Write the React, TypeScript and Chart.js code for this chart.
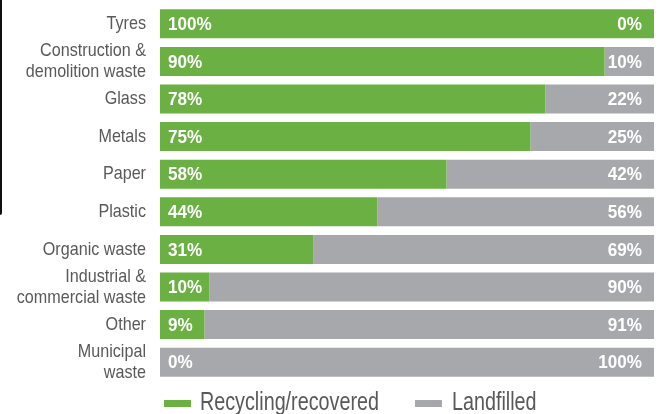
import React, { useEffect, useRef } from "react";
import { Chart, registerables } from "chart.js";

Chart.register(...registerables);

const categories: (string | string[])[] = [
  "Tyres",
  ["Construction &", "demolition waste"],
  "Glass",
  "Metals",
  "Paper",
  "Plastic",
  "Organic waste",
  ["Industrial &", "commercial waste"],
  "Other",
  ["Municipal", "waste"],
];
const recycled = [100, 90, 78, 75, 58, 44, 31, 10, 9, 0];
const landfilled = [0, 10, 22, 25, 42, 56, 69, 90, 91, 100];
const seriesNames = ["Recycling/recovered", "Landfilled"];

const GREEN = "#6ab043";
const GRAY = "#a7a8ab";
const TEXT = "#58595b";
const FONT = "'Liberation Sans', Arial, sans-serif";
const LABEL_SQUEEZE = 0.85;
const VALUE_SQUEEZE = 0.9;

function squeezedText(ctx: any, text: string, x: number, y: number, sx: number) {
  ctx.save();
  ctx.translate(x, y);
  ctx.scale(sx, 1);
  ctx.fillText(text, 0, 0);
  ctx.restore();
}

const valueLabels = {
  id: "valueLabels",
  afterDatasetsDraw(chart: any) {
    const ctx = chart.ctx;
    const area = chart.chartArea;
    const meta0 = chart.getDatasetMeta(0);
    ctx.save();
    ctx.fillStyle = "#ffffff";
    ctx.font = `bold 19px ${FONT}`;
    ctx.textBaseline = "middle";
    meta0.data.forEach((bar: any, i: number) => {
      const y = bar.y + 1;
      ctx.textAlign = "left";
      squeezedText(ctx, recycled[i] + "%", area.left + 8, y, VALUE_SQUEEZE);
      ctx.textAlign = "right";
      squeezedText(ctx, landfilled[i] + "%", area.right - 12, y, VALUE_SQUEEZE);
    });
    ctx.restore();
  },
};

export default function App() {
  const ref = useRef<HTMLCanvasElement | null>(null);
  useEffect(() => {
    if (!ref.current) return;
    const chart = new Chart(ref.current, {
      type: "bar",
      data: {
        labels: categories,
        datasets: [
          { label: seriesNames[0], data: recycled, backgroundColor: GREEN, borderWidth: 0 },
          { label: seriesNames[1], data: landfilled, backgroundColor: GRAY, borderWidth: 0 },
        ],
      },
      options: {
        indexAxis: "y",
        responsive: false,
        animation: false,
        maintainAspectRatio: false,
        layout: { padding: { top: 5, bottom: 33, right: 11, left: 0 } },
        datasets: { bar: { barPercentage: 0.77, categoryPercentage: 1 } },
        scales: {
          x: {
            stacked: true,
            min: 0,
            max: 100,
            display: false,
          },
          y: {
            stacked: true,
            grid: { display: false, drawTicks: false },
            border: { display: false },
            ticks: {
              autoSkip: false,
              padding: 14,
              color: TEXT,
              font: { family: FONT, size: 19, lineHeight: 1.1 },
            },
            afterFit: (scale: any) => {
              scale.width = 160;
              scale.paddingTop = 0;
              scale.paddingBottom = 0;
              if (!scale._squeezed) {
                scale._squeezed = true;
                scale._computeLabelArea = () => undefined;
                const orig = scale.drawLabels.bind(scale);
                scale.drawLabels = (area: any) => {
                  const ctx = scale.ctx;
                  const ax = scale.right - 14;
                  ctx.save();
                  ctx.translate(ax, 0);
                  ctx.scale(LABEL_SQUEEZE, 1);
                  ctx.translate(-ax, 0);
                  orig(area);
                  ctx.restore();
                };
              }
            },
          },
        },
        plugins: {
          legend: { display: false },
          tooltip: { enabled: false },
        },
      },
      plugins: [valueLabels],
    });
    return () => chart.destroy();
  }, []);

  const legendText: React.CSSProperties = {
    position: "absolute",
    top: 387,
    fontFamily: FONT,
    fontSize: 25,
    color: TEXT,
    lineHeight: "28px",
    whiteSpace: "nowrap",
    transform: "scaleX(0.79)",
    transformOrigin: "left center",
  };
  const swatch: React.CSSProperties = {
    position: "absolute",
    top: 400,
    width: 27,
    height: 7,
  };

  return (
    <div style={{ position: "fixed", left: 0, top: 0, width: 665, height: 414, background: "#fff" }}>
      <canvas ref={ref} width={665} height={414} style={{ position: "absolute", left: 0, top: 0 }} />
      <div
        style={{
          position: "absolute",
          left: 0,
          top: 0,
          width: 2,
          height: 215,
          background: "#111",
          borderBottomRightRadius: 2,
        }}
      />
      <div style={{ ...swatch, left: 164, background: GREEN }} />
      <div style={{ ...legendText, left: 200 }}>{seriesNames[0]}</div>
      <div style={{ ...swatch, left: 415, background: GRAY }} />
      <div style={{ ...legendText, left: 452 }}>{seriesNames[1]}</div>
    </div>
  );
}
